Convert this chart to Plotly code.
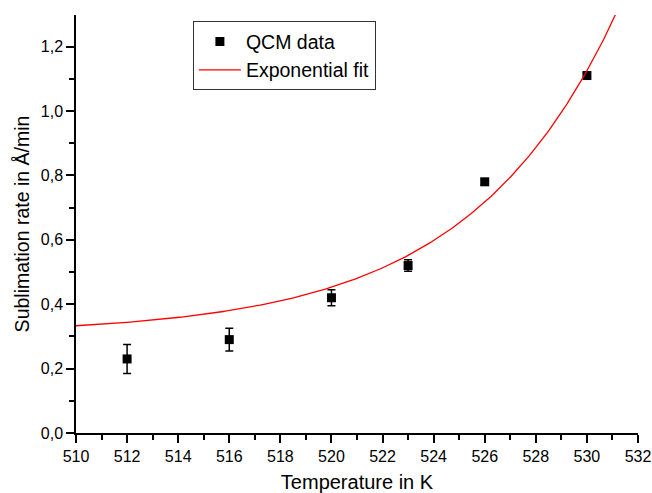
import numpy as np
import plotly.graph_objects as go

temps = [512, 516, 520, 523, 526, 530]
rates = [0.23, 0.29, 0.42, 0.52, 0.78, 1.11]
errs = [0.045, 0.035, 0.025, 0.018, 0.008, 0.008]

# exponential fit parameters: y = y0 + A*exp((T - T0)/t)
fit_y0 = 0.307
fit_A = 0.026
fit_T0 = 510.0
fit_t = 5.8

xt = np.linspace(510, 531.3, 300)
yt = fit_y0 + fit_A * np.exp((xt - fit_T0) / fit_t)

fig = go.Figure()
fig.add_trace(go.Scatter(
    x=temps, y=rates, mode="markers", name="QCM data",
    marker=dict(symbol="square", size=9, color="black"),
    error_y=dict(type="data", array=errs, visible=True, color="black", thickness=1.5, width=4),
))
fig.add_trace(go.Scatter(
    x=xt, y=yt, mode="lines", name="Exponential fit",
    line=dict(color="red", width=1.3),
))

fig.update_layout(
    width=652, height=493,
    margin=dict(l=76, r=14, t=15, b=60),
    paper_bgcolor="white", plot_bgcolor="white",
    separators=", ",
    font=dict(family="Liberation Sans, Arial", size=16, color="black"),
    showlegend=True,
    legend=dict(x=0.208, y=0.985, xanchor="left", yanchor="top",
                bordercolor="#333", borderwidth=1, bgcolor="white",
                font=dict(size=19.5), tracegroupgap=0, itemwidth=42),
    xaxis=dict(range=[510, 532], dtick=2, tick0=510, showgrid=False, zeroline=False,
               automargin=False,
               showline=True, linecolor="black", linewidth=1.5,
               ticks="outside", ticklen=8, tickwidth=1.5, tickcolor="black",
               minor=dict(dtick=1, ticks="outside", ticklen=5, tickwidth=1.5, tickcolor="black"),
               title=dict(text="Temperature in K", font=dict(size=20)),
               tickfont=dict(size=16)),
    yaxis=dict(range=[0, 1.298], dtick=0.2, tick0=0, tickformat=".1f", showgrid=False, zeroline=False,
               automargin=False,
               showline=True, linecolor="black", linewidth=1.5,
               ticks="outside", ticklen=8, tickwidth=1.5, tickcolor="black",
               minor=dict(dtick=0.1, ticks="outside", ticklen=5, tickwidth=1.5, tickcolor="black"),
               title=dict(text="Sublimation rate in Å/min", font=dict(size=19.5), standoff=6),
               tickfont=dict(size=16)),
)

fig.write_html("out.html", config={"displayModeBar": False},
               post_script="document.body.style.margin='0px';document.body.style.overflow='hidden';")
